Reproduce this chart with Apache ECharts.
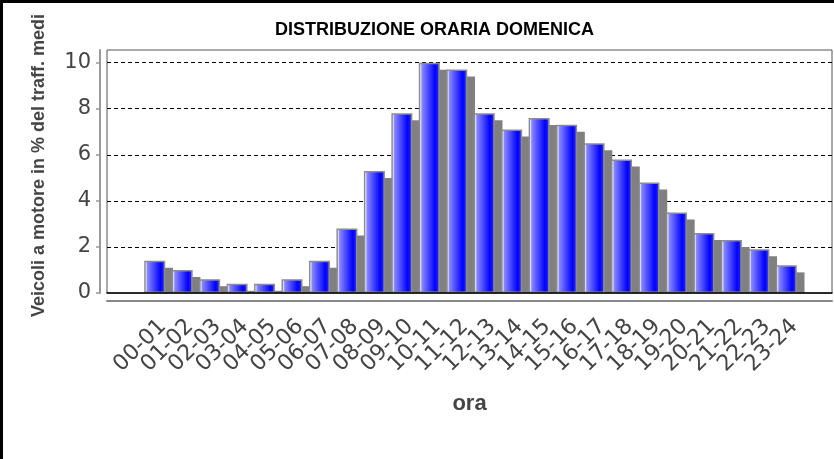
<!DOCTYPE html>
<html>
<head>
<meta charset="utf-8">
<script src="https://cdn.jsdelivr.net/npm/echarts@6/dist/echarts.min.js"></script>
<style>
  html, body { margin: 0; padding: 0; background: #fff; }
  #wrap { position: relative; width: 834px; height: 459px; }
  #chart { position: absolute; left: 0; top: 0; width: 834px; height: 459px; }
  #edge { position: absolute; left: 0; top: 0; width: 834px; height: 459px;
          box-sizing: border-box; border-top: 3px solid #000; border-left: 3px solid #000;
          pointer-events: none; }
</style>
</head>
<body>
<div id="wrap">
  <div id="chart"></div>
  <div id="edge"></div>
</div>
<script>
// fasce orarie e quota di traffico (%)
const hours = ['00-01', '01-02', '02-03', '03-04', '04-05', '05-06', '06-07', '07-08',
  '08-09', '09-10', '10-11', '11-12', '12-13', '13-14', '14-15', '15-16',
  '16-17', '17-18', '18-19', '19-20', '20-21', '21-22', '22-23', '23-24'];
const share = [1.4, 1.0, 0.6, 0.4, 0.4, 0.6, 1.4, 2.8,
  5.3, 7.8, 10.0, 9.7, 7.8, 7.1, 7.6, 7.3,
  6.5, 5.8, 4.8, 3.5, 2.6, 2.3, 1.9, 1.2];
const yMax = 10.55;
const yStep = 2;

const BAR_W = 21;
const SHADOW = 7;
const tickFont = 'DejaVu Sans';

const chart = echarts.init(document.getElementById('chart'));

const barFill = new echarts.graphic.LinearGradient(0, 0, 1, 0, [
  { offset: 0, color: '#d8d8ff' },
  { offset: 0.07, color: '#ffffff' },
  { offset: 0.15, color: '#8888ff' },
  { offset: 0.78, color: '#0000ff' },
  { offset: 1, color: '#3535ff' }
]);

const option = {
  animation: false,
  title: {
    text: 'DISTRIBUZIONE ORARIA DOMENICA',
    left: 270,
    top: 16,
    textStyle: { fontFamily: 'Liberation Sans', fontWeight: 'bold', fontSize: 18, color: '#000' }
  },
  grid: [
    // cornice del grafico
    { left: 107, right: 2, top: 50, bottom: 166, outerBoundsMode: 'none', containLabel: false,
      show: true, borderColor: '#555', borderWidth: 1, backgroundColor: '#fff' },
    // barre
    { left: 141, right: 34, top: 50, bottom: 166, outerBoundsMode: 'none', containLabel: false },
    // etichette orarie
    { left: 149, right: 26, top: 50, bottom: 166, outerBoundsMode: 'none', containLabel: false }
  ],
  xAxis: [
    {
      gridIndex: 0, type: 'category', data: hours, position: 'bottom', z: 5,
      axisLine: { lineStyle: { color: '#000', width: 1.5 } },
      axisTick: { show: false }, axisLabel: { show: false }, splitLine: { show: false }
    },
    {
      gridIndex: 0, type: 'category', data: hours, position: 'bottom', offset: 8,
      name: 'ora', nameLocation: 'middle', nameGap: 92,
      nameTextStyle: { fontFamily: 'Liberation Sans', fontWeight: 'bold', fontSize: 22, color: '#444' },
      axisLine: { lineStyle: { color: '#888', width: 2 } },
      axisTick: { show: false }, axisLabel: { show: false }, splitLine: { show: false }
    },
    {
      gridIndex: 1, type: 'category', data: hours, position: 'bottom',
      axisLine: { show: false }, axisTick: { show: false }, axisLabel: { show: false }
    },
    {
      gridIndex: 2, type: 'category', data: hours, position: 'bottom',
      axisLine: { show: false }, axisTick: { show: false },
      axisLabel: { rotate: 45, margin: 30, interval: 0, fontFamily: tickFont, fontSize: 22, color: '#444' }
    }
  ],
  yAxis: [
    {
      gridIndex: 0, type: 'value', min: 0, max: yMax, interval: yStep, offset: 7,
      name: 'Veicoli a motore in % del traff. medi', nameLocation: 'middle', nameGap: 52,
      nameTextStyle: { fontFamily: 'Liberation Sans', fontWeight: 'bold', fontSize: 18, color: '#444', padding: [0, 0, 0, 12] },
      axisLine: { show: true, lineStyle: { color: '#999', width: 2 } },
      axisTick: { show: true, length: 4, lineStyle: { color: '#999', width: 1.5 } },
      axisLabel: { margin: 9, fontFamily: tickFont, fontSize: 21, color: '#444', showMaxLabel: false },
      splitLine: { show: true, showMinLine: false, showMaxLine: false, lineStyle: { color: '#000', type: [4, 3], width: 1 } }
    },
    { gridIndex: 1, type: 'value', min: 0, max: yMax, interval: yStep, show: false },
    { gridIndex: 2, type: 'value', min: 0, max: yMax, interval: yStep, show: false }
  ],
  series: [
    {
      // ombra delle barre
      type: 'custom',
      xAxisIndex: 2, yAxisIndex: 1,
      z: 1,
      data: share.map((v, i) => [i, v]),
      renderItem: function (params, api) {
        const top = api.coord([api.value(0), api.value(1)]);
        const base = api.coord([api.value(0), 0]);
        const h = base[1] - top[1] - SHADOW;
        if (h <= 0) return;
        return {
          type: 'rect',
          shape: { x: top[0] - (BAR_W + 1.5) / 2 + SHADOW, y: top[1] + SHADOW, width: BAR_W + 1.5, height: h },
          style: { fill: '#808080' }
        };
      }
    },
    {
      type: 'bar',
      xAxisIndex: 2, yAxisIndex: 1,
      z: 2,
      barWidth: BAR_W,
      data: share,
      itemStyle: { color: barFill, borderColor: '#8c8c8c', borderWidth: 1.5 }
    }
  ]
};

chart.setOption(option);

window.addEventListener('resize', _ => {
  chart.resize();
});
</script>
</body>
</html>
